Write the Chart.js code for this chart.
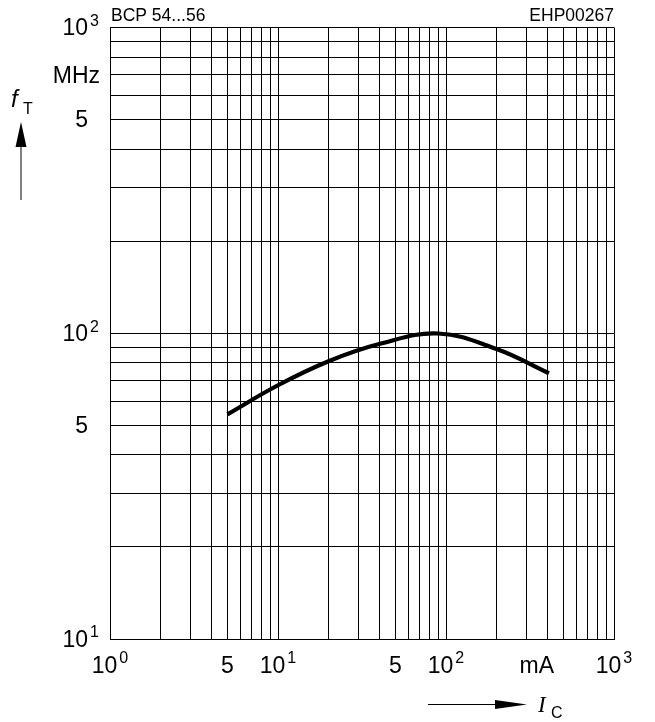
<!DOCTYPE html>
<html>
<head>
<meta charset="utf-8">
<script src="https://cdn.jsdelivr.net/npm/chart.js@4/dist/chart.umd.min.js"></script>
<style>
  html, body { margin: 0; padding: 0; background: #fff; }
  #wrap { width: 655px; height: 722px; }
</style>
</head>
<body>
<div id="wrap"><canvas id="c" width="655" height="722"></canvas></div>
<script>
// Transition frequency fT versus collector current IC
const collectorCurrent = [5, 10, 20, 40, 90, 200, 410];        // mA
const transitionFreq   = [54.3, 67.6, 81, 92.2, 99.8, 88.8, 74]; // MHz

// Grid decades and steps (1..9 in each decade)
const xDecades = [1, 10, 100];
const yDecades = [10, 100];
const decadeSteps = [1, 2, 3, 4, 5, 6, 7, 8, 9];
const xMax = 1000, yMax = 1000;

// Axis labels: base text and optional exponent
const xTickLabels = [
  { v: 1, base: '10', sup: '0' },
  { v: 5, base: '5' },
  { v: 10, base: '10', sup: '1' },
  { v: 50, base: '5' },
  { v: 100, base: '10', sup: '2' },
  { v: 347, base: 'mA' },
  { v: 1000, base: '10', sup: '3' }
];
const yTickLabels = [
  { v: 1000, base: '10', sup: '3' },
  { v: 700, base: 'MHz' },
  { v: 500, base: '5' },
  { v: 100, base: '10', sup: '2' },
  { v: 50, base: '5' },
  { v: 10, base: '10', sup: '1' }
];

const gridValues = (decades, max) => {
  const out = [];
  decades.forEach(d => decadeSteps.forEach(s => out.push(d * s)));
  out.push(max);
  return out;
};
const xGrid = gridValues(xDecades, xMax);
const yGrid = gridValues(yDecades, yMax);

const FONT = '"Liberation Sans", Arial, Helvetica, sans-serif';
const BASE_PX = 23, SUP_PX = 16;

function labelWidth(ctx, l) {
  ctx.font = BASE_PX + 'px ' + FONT;
  let w = ctx.measureText(l.base).width;
  if (l.sup) { ctx.font = SUP_PX + 'px ' + FONT; w += 2 + ctx.measureText(l.sup).width; }
  return w;
}
function drawLabel(ctx, l, left, cy) {
  ctx.textAlign = 'left';
  ctx.textBaseline = 'middle';
  ctx.font = BASE_PX + 'px ' + FONT;
  ctx.fillText(l.base, left, cy);
  if (l.sup) {
    const bw = ctx.measureText(l.base).width;
    ctx.font = SUP_PX + 'px ' + FONT;
    ctx.fillText(l.sup, left + bw + 2, cy - 7.5);
  }
}

const annotations = {
  id: 'annotations',
  afterDraw(chart) {
    const ctx = chart.ctx;
    const xs = chart.scales.x, ys = chart.scales.y;
    const area = chart.chartArea;
    ctx.save();
    ctx.fillStyle = '#000';
    ctx.strokeStyle = '#000';

    // x-axis labels, centred under their grid value
    xTickLabels.forEach(l => {
      const px = xs.getPixelForValue(l.v);
      const w = labelWidth(ctx, l);
      drawLabel(ctx, l, px - w / 2, area.bottom + 27.5);
    });

    // y-axis labels, numbers aligned on the base digits, unit further right
    yTickLabels.forEach(l => {
      const py = ys.getPixelForValue(l.v) + 1.5;
      ctx.font = BASE_PX + 'px ' + FONT;
      const bw = ctx.measureText(l.base).width;
      const isUnit = isNaN(parseFloat(l.base));
      const right = isUnit ? area.left - 10 : area.left - 22;
      drawLabel(ctx, l, right - bw, py);
    });

    // headers
    ctx.font = '17.5px ' + FONT;
    ctx.textBaseline = 'alphabetic';
    ctx.textAlign = 'left';
    ctx.fillText('BCP 54...56', area.left + 1, 21);
    ctx.textAlign = 'right';
    ctx.fillText('EHP00267', area.right, 21);

    // y quantity: fT with upward arrow
    ctx.textAlign = 'left';
    ctx.font = 'italic 24px ' + FONT;
    ctx.fillText('f', 11, 107);
    ctx.font = '16px ' + FONT;
    ctx.fillText('T', 23, 114);
    ctx.lineWidth = 1;
    ctx.beginPath();
    ctx.moveTo(21, 200); ctx.lineTo(21, 140);
    ctx.stroke();
    ctx.beginPath();
    ctx.moveTo(21, 122); ctx.lineTo(15.5, 147); ctx.lineTo(26.5, 147); ctx.closePath();
    ctx.fill();

    // x quantity: IC with rightward arrow
    ctx.beginPath();
    ctx.moveTo(428, 704.5); ctx.lineTo(505, 704.5);
    ctx.stroke();
    ctx.beginPath();
    ctx.moveTo(527, 704.5); ctx.lineTo(495, 700); ctx.lineTo(495, 709); ctx.closePath();
    ctx.fill();
    ctx.font = 'italic 23px "Liberation Serif", "Times New Roman", serif';
    ctx.fillText('I', 538, 712);
    ctx.font = '16px ' + FONT;
    ctx.fillText('C', 551, 718);

    ctx.restore();
  }
};

const gridOpts = { color: '#000', lineWidth: 1, drawTicks: false, tickLength: 0 };

new Chart(document.getElementById('c'), {
  type: 'line',
  data: {
    datasets: [{
      data: collectorCurrent.map((ic, i) => ({ x: ic, y: transitionFreq[i] })),
      borderColor: '#000',
      borderWidth: 4.2,
      pointRadius: 0,
      tension: 0.4,
      fill: false
    }]
  },
  options: {
    responsive: false,
    animation: false,
    devicePixelRatio: 1,
    layout: { padding: { left: 110, right: 41, top: 27.5, bottom: 83 } },
    plugins: { legend: { display: false }, tooltip: { enabled: false } },
    scales: {
      x: {
        type: 'logarithmic', min: 1, max: xMax,
        ticks: { display: false, padding: 0 },
        grid: gridOpts,
        border: { display: true, color: '#000', width: 1 },
        afterBuildTicks: axis => { axis.ticks = xGrid.map(v => ({ value: v })); }
      },
      y: {
        type: 'logarithmic', min: 10, max: yMax,
        ticks: { display: false, padding: 0 },
        grid: gridOpts,
        border: { display: true, color: '#000', width: 1 },
        afterBuildTicks: axis => { axis.ticks = yGrid.map(v => ({ value: v })); }
      }
    }
  },
  plugins: [annotations]
});
</script>
</body>
</html>
